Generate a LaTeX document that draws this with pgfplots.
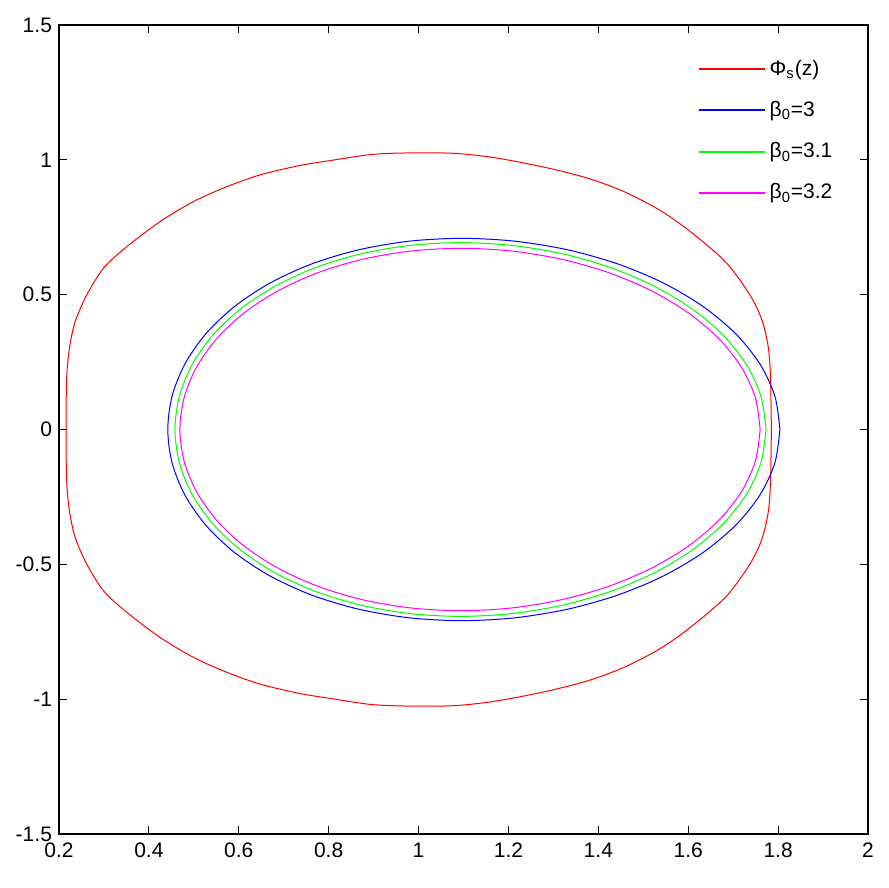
\documentclass[border=0pt]{standalone}
\usepackage{fontspec}
\setmainfont{Liberation Sans}
\usepackage{pgfplots}
\pgfplotsset{compat=1.18}
\definecolor{mred}{rgb}{1,0,0}
\definecolor{mblue}{rgb}{0,0,1}
\definecolor{mgreen}{rgb}{0,1,0}
\definecolor{mmag}{rgb}{1,0,1}
\begin{document}
\begin{tikzpicture}
\begin{axis}[
  scale only axis,
  width=404.5pt, height=404.5pt,
  xmin=0.2, xmax=2, ymin=-1.5, ymax=1.5,
  xtick={0.2,0.4,...,2.01}, ytick={-1.5,-1,...,1.5},
  tick align=inside,
  major tick length=4pt,
  tick style={black, line width=0.5pt},
  axis line style={black, line width=0.6pt},
  tick label style={font=\fontsize{10.5}{12}\selectfont},
  /pgf/number format/assume math mode=true,
  xticklabel style={yshift=-1pt},
  legend style={draw=none, fill=none, at={(0.789,0.962)}, anchor=north west,
    font=\fontsize{10.5}{12}\selectfont, row sep=7.5pt, inner sep=0pt,
    nodes={inner xsep=2pt}},
  legend cell align=left,
  legend image code/.code={\draw[#1,sharp plot,line width=1pt] (0pt,0pt) -- (33pt,0pt);},
  every axis plot/.append style={line width=0.5pt},
]
\coordinate (ll) at (rel axis cs:0,0);
\coordinate (ur) at (rel axis cs:1,1);
% red curve
\addplot[color=mred, smooth] coordinates {
(1.785,0) (1.783,0.196) (1.778,0.307) (1.764,0.406) (1.738,0.497) (1.686,0.616)
(1.610,0.727) (1.540,0.810) (1.460,0.880) (1.380,0.930) (1.300,0.965) (1.220,0.993)
(1.152,1.012) (1.081,1.024) (1.009,1.026) (0.937,1.024) (0.885,1.018) (0.810,0.999) (0.736,0.979)
(0.647,0.944) (0.573,0.900) (0.499,0.845) (0.425,0.771) (0.351,0.678) (0.300,0.600)
(0.262,0.500) (0.236,0.400) (0.224,0.310) (0.218,0.221) (0.216,0.11) (0.216,0)
(0.216,-0.11) (0.218,-0.221) (0.224,-0.310) (0.236,-0.400) (0.262,-0.500) (0.300,-0.600) (0.351,-0.678)
(0.425,-0.771) (0.499,-0.845) (0.573,-0.900) (0.647,-0.944) (0.736,-0.979) (0.810,-0.999)
(0.885,-1.018) (0.937,-1.024) (1.009,-1.026) (1.081,-1.024) (1.152,-1.012) (1.220,-0.993) (1.300,-0.965)
(1.380,-0.930) (1.460,-0.880) (1.540,-0.810) (1.610,-0.727) (1.686,-0.616) (1.738,-0.497)
(1.764,-0.406) (1.778,-0.307) (1.783,-0.196) (1.785,0)
};
\addlegendentry{Φ\textsubscript{s}(z)}
% blue
\addplot[color=mblue, smooth] coordinates {
(1.804,0) (1.7929,0.1231) (1.7597,0.2425) (1.7059,0.3545) (1.6334,0.4557) (1.5449,0.5431)
(1.4432,0.6140) (1.3321,0.6662) (1.2150,0.6982) (1.096,0.709) (0.9786,0.6982) (0.8663,0.6662)
(0.7622,0.6140) (0.6695,0.5431) (0.5902,0.4557) (0.5265,0.3545) (0.4799,0.2425) (0.4515,0.1231)
(0.442,0) (0.4515,-0.1231) (0.4799,-0.2425) (0.5265,-0.3545) (0.5902,-0.4557) (0.6695,-0.5431)
(0.7622,-0.6140) (0.8663,-0.6662) (0.9786,-0.6982) (1.096,-0.709) (1.2150,-0.6982) (1.3321,-0.6662)
(1.4432,-0.6140) (1.5449,-0.5431) (1.6334,-0.4557) (1.7059,-0.3545) (1.7597,-0.2425) (1.7929,-0.1231)
(1.804,0)
};
\addlegendentry{β\textsubscript{0}=3}
% green
\addplot[color=mgreen, smooth] coordinates {
(1.773,0) (1.7623,0.1203) (1.7308,0.2370) (1.6794,0.3465) (1.6100,0.4455) (1.5252,0.5308)
(1.4278,0.6001) (1.3210,0.6512) (1.2083,0.6825) (1.0935,0.693) (0.9801,0.6825) (0.8712,0.6512)
(0.7702,0.6001) (0.6800,0.5308) (0.6028,0.4455) (0.5406,0.3465) (0.4950,0.2370) (0.4673,0.1203)
(0.458,0) (0.4673,-0.1203) (0.4950,-0.2370) (0.5406,-0.3465) (0.6028,-0.4455) (0.6800,-0.5308)
(0.7702,-0.6001) (0.8712,-0.6512) (0.9801,-0.6825) (1.0935,-0.693) (1.2083,-0.6825) (1.3210,-0.6512)
(1.4278,-0.6001) (1.5252,-0.5308) (1.6100,-0.4455) (1.6794,-0.3465) (1.7308,-0.2370) (1.7623,-0.1203)
(1.773,0)
};
\addlegendentry{β\textsubscript{0}=3.1}
% magenta
\addplot[color=mmag, smooth] coordinates {
(1.760,0) (1.7496,0.1167) (1.7188,0.2298) (1.6685,0.336) (1.6007,0.4320) (1.5177,0.5148)
(1.4223,0.5820) (1.3176,0.6315) (1.2072,0.6618) (1.0945,0.672) (0.9830,0.6618) (0.8760,0.6315)
(0.7767,0.5820) (0.6879,0.5148) (0.6117,0.4320) (0.5505,0.336) (0.5056,0.2298) (0.4782,0.1167)
(0.469,0) (0.4782,-0.1167) (0.5056,-0.2298) (0.5505,-0.336) (0.6117,-0.4320) (0.6879,-0.5148)
(0.7767,-0.5820) (0.8760,-0.6315) (0.9830,-0.6618) (1.0945,-0.672) (1.2072,-0.6618) (1.3176,-0.6315)
(1.4223,-0.5820) (1.5177,-0.5148) (1.6007,-0.4320) (1.6685,-0.336) (1.7188,-0.2298) (1.7496,-0.1167)
(1.760,0)
};
\addlegendentry{β\textsubscript{0}=3.2}
\end{axis}
\path (ll) ++(-29.5pt,-27pt) coordinate (bbA);
\path (ur) ++(10pt,12.5pt) coordinate (bbB);
\path[use as bounding box] (bbA) rectangle (bbB);
\end{tikzpicture}
\end{document}
